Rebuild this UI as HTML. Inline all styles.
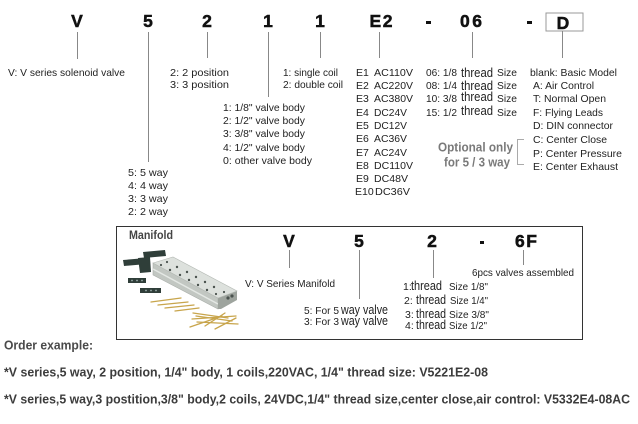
<!DOCTYPE html>
<html><head><meta charset="utf-8"><style>
html,body{margin:0;padding:0;background:#fff;}
svg{display:block;}
text{font-family:"Liberation Sans",Arial,sans-serif;fill:#222;}
.b{font-weight:bold;}
.big{font-size:17.5px;font-weight:bold;fill:#111;stroke:#111;stroke-width:0.5;}
.t{font-size:10.5px;}
.th{font-size:13px;}
.o{font-size:12.5px;font-weight:bold;fill:#3c3c3c;}
</style></head><body>
<svg width="638" height="424" viewBox="0 0 638 424" xmlns="http://www.w3.org/2000/svg">
<rect width="638" height="424" fill="#fff"/>
<!-- top code letters -->
<text class="big" x="77" y="27" text-anchor="middle">V</text>
<text class="big" x="148" y="27" text-anchor="middle">5</text>
<text class="big" x="207" y="27" text-anchor="middle">2</text>
<text class="big" x="268" y="27" text-anchor="middle">1</text>
<text class="big" x="320" y="27" text-anchor="middle">1</text>
<text class="big" x="381" y="27" text-anchor="middle" textLength="23" lengthAdjust="spacing">E2</text>
<rect x="426" y="21" width="5" height="3" fill="#111"/>
<text class="big" x="471" y="27" text-anchor="middle" textLength="22" lengthAdjust="spacing">06</text>
<rect x="527" y="21" width="5" height="3" fill="#111"/>
<rect x="546" y="13" width="37" height="18" fill="none" stroke="#999" stroke-width="1"/>
<text class="big" x="563" y="29" text-anchor="middle">D</text>
<!-- connectors -->
<g stroke="#888" stroke-width="1">
<line x1="77.5" y1="32" x2="77.5" y2="59"/>
<line x1="148.5" y1="32" x2="148.5" y2="162"/>
<line x1="207.5" y1="32" x2="207.5" y2="58"/>
<line x1="268.5" y1="32" x2="268.5" y2="97"/>
<line x1="320.5" y1="32" x2="320.5" y2="58"/>
<line x1="379.5" y1="32" x2="379.5" y2="58"/>
<line x1="472.5" y1="32" x2="472.5" y2="58"/>
<line x1="562.5" y1="31" x2="562.5" y2="58"/>
</g>
<!-- labels -->
<text class="t" x="8" y="76" textLength="117" lengthAdjust="spacingAndGlyphs">V: V series solenoid valve</text>
<text class="t" x="170" y="76" textLength="59" lengthAdjust="spacingAndGlyphs">2: 2 position</text>
<text class="t" x="170" y="88" textLength="59" lengthAdjust="spacingAndGlyphs">3: 3 position</text>
<text class="t" x="283" y="76" textLength="55" lengthAdjust="spacingAndGlyphs">1: single coil</text>
<text class="t" x="283" y="88" textLength="60" lengthAdjust="spacingAndGlyphs">2: double coil</text>
<text class="t" x="223" y="111" textLength="82" lengthAdjust="spacingAndGlyphs">1: 1/8" valve body</text>
<text class="t" x="223" y="124" textLength="82" lengthAdjust="spacingAndGlyphs">2: 1/2" valve body</text>
<text class="t" x="223" y="137" textLength="82" lengthAdjust="spacingAndGlyphs">3: 3/8" valve body</text>
<text class="t" x="223" y="151" textLength="82" lengthAdjust="spacingAndGlyphs">4: 1/2" valve body</text>
<text class="t" x="223" y="164" textLength="89" lengthAdjust="spacingAndGlyphs">0: other valve body</text>
<text class="t" x="128" y="176" textLength="40" lengthAdjust="spacingAndGlyphs">5: 5 way</text>
<text class="t" x="128" y="189" textLength="40" lengthAdjust="spacingAndGlyphs">4: 4 way</text>
<text class="t" x="128" y="202" textLength="40" lengthAdjust="spacingAndGlyphs">3: 3 way</text>
<text class="t" x="128" y="215" textLength="40" lengthAdjust="spacingAndGlyphs">2: 2 way</text>
<!-- E list -->
<text class="t" x="356" y="76">E1</text><text class="t" x="374" y="76" textLength="39" lengthAdjust="spacingAndGlyphs">AC110V</text>
<text class="t" x="356" y="89">E2</text><text class="t" x="374" y="89" textLength="39" lengthAdjust="spacingAndGlyphs">AC220V</text>
<text class="t" x="356" y="102">E3</text><text class="t" x="374" y="102" textLength="39" lengthAdjust="spacingAndGlyphs">AC380V</text>
<text class="t" x="356" y="116">E4</text><text class="t" x="374" y="116" textLength="33" lengthAdjust="spacingAndGlyphs">DC24V</text>
<text class="t" x="356" y="129">E5</text><text class="t" x="374" y="129" textLength="33" lengthAdjust="spacingAndGlyphs">DC12V</text>
<text class="t" x="356" y="142">E6</text><text class="t" x="374" y="142" textLength="33" lengthAdjust="spacingAndGlyphs">AC36V</text>
<text class="t" x="356" y="156">E7</text><text class="t" x="374" y="156" textLength="33" lengthAdjust="spacingAndGlyphs">AC24V</text>
<text class="t" x="356" y="169">E8</text><text class="t" x="374" y="169" textLength="39" lengthAdjust="spacingAndGlyphs">DC110V</text>
<text class="t" x="356" y="182">E9</text><text class="t" x="374" y="182" textLength="34" lengthAdjust="spacingAndGlyphs">DC48V</text>
<text class="t" x="355" y="195">E10</text><text class="t" x="375" y="195" textLength="35" lengthAdjust="spacingAndGlyphs">DC36V</text>
<!-- thread list -->
<text class="t" x="426" y="76" textLength="31" lengthAdjust="spacingAndGlyphs">06: 1/8</text>
<text class="th" x="461" y="77" textLength="32" lengthAdjust="spacingAndGlyphs">thread</text>
<text class="t" x="497" y="76" textLength="20" lengthAdjust="spacingAndGlyphs">Size</text>
<text class="t" x="426" y="89" textLength="31" lengthAdjust="spacingAndGlyphs">08: 1/4</text>
<text class="th" x="461" y="90" textLength="32" lengthAdjust="spacingAndGlyphs">thread</text>
<text class="t" x="497" y="89" textLength="20" lengthAdjust="spacingAndGlyphs">Size</text>
<text class="t" x="426" y="102" textLength="31" lengthAdjust="spacingAndGlyphs">10: 3/8</text>
<text class="th" x="461" y="101" textLength="32" lengthAdjust="spacingAndGlyphs">thread</text>
<text class="t" x="497" y="102" textLength="20" lengthAdjust="spacingAndGlyphs">Size</text>
<text class="t" x="426" y="116" textLength="31" lengthAdjust="spacingAndGlyphs">15: 1/2</text>
<text class="th" x="461" y="115" textLength="32" lengthAdjust="spacingAndGlyphs">thread</text>
<text class="t" x="497" y="116" textLength="20" lengthAdjust="spacingAndGlyphs">Size</text>
<!-- D list -->
<text class="t" x="530" y="76" textLength="87" lengthAdjust="spacingAndGlyphs">blank: Basic Model</text>
<text class="t" x="533" y="89" textLength="61" lengthAdjust="spacingAndGlyphs">A: Air Control</text>
<text class="t" x="533" y="102" textLength="73" lengthAdjust="spacingAndGlyphs">T: Normal Open</text>
<text class="t" x="533" y="116" textLength="70" lengthAdjust="spacingAndGlyphs">F: Flying Leads</text>
<text class="t" x="533" y="129" textLength="80" lengthAdjust="spacingAndGlyphs">D: DIN connector</text>
<text class="t" x="533" y="143" textLength="74" lengthAdjust="spacingAndGlyphs">C: Center Close</text>
<text class="t" x="533" y="157" textLength="89" lengthAdjust="spacingAndGlyphs">P: Center Pressure</text>
<text class="t" x="533" y="170" textLength="85" lengthAdjust="spacingAndGlyphs">E: Center Exhaust</text>
<!-- optional -->
<text x="438" y="151.5" style="font-size:13px;font-weight:bold;fill:#7a7a7a" textLength="75" lengthAdjust="spacingAndGlyphs">Optional only</text>
<text x="444" y="166.5" style="font-size:13px;font-weight:bold;fill:#7a7a7a" textLength="66" lengthAdjust="spacingAndGlyphs">for 5 / 3 way</text>
<path d="M524 139.5 H517.5 V164.5 H524" fill="none" stroke="#aaa" stroke-width="1"/>

<!-- Manifold box -->
<rect x="116.5" y="226.5" width="466" height="113" fill="none" stroke="#333" stroke-width="1"/>
<text x="129" y="239" style="font-size:11.5px;font-weight:bold;fill:#444" textLength="44" lengthAdjust="spacingAndGlyphs">Manifold</text>
<!-- manifold picture -->
<g>
<polygon points="153,263 218,298 218,309 153,275" fill="#c2c7c2" stroke="#a9aea9" stroke-width="0.6"/>
<line x1="153" y1="269" x2="218" y2="304" stroke="#e4e8e4" stroke-width="1.5"/>
<polygon points="218,298 237,291 237,300 221,309 218,309" fill="#9ea49e"/>
<polygon points="153,263 173,257 237,291 218,298" fill="#dde1dd" stroke="#b5bab5" stroke-width="0.6"/>
<g fill="#4a524e">
<circle cx="161" cy="265" r="1.1"/><circle cx="167" cy="262" r="1.1"/>
<circle cx="170" cy="270" r="1.2"/><circle cx="177" cy="267" r="1.2"/>
<circle cx="180" cy="275" r="1.2"/><circle cx="187" cy="272" r="1.2"/>
<circle cx="189" cy="280" r="1.2"/><circle cx="196" cy="277" r="1.2"/>
<circle cx="198" cy="285" r="1.2"/><circle cx="205" cy="282" r="1.2"/>
<circle cx="207" cy="290" r="1.2"/><circle cx="214" cy="287" r="1.2"/>
<circle cx="216" cy="294" r="1.1"/><circle cx="224" cy="292" r="1.1"/>
<circle cx="228" cy="298" r="1.6"/><circle cx="232" cy="296" r="1.6"/>
</g>
<g fill="#2f3e39">
<polygon points="123,260 146,258 147,264 124,266"/>
<polygon points="138,258 150,257 151,272 140,273"/>
<polygon points="143,252 165,250 166,256 144,258"/>
<rect x="128" y="278" width="18" height="5"/>
<rect x="140" y="288" width="21" height="5"/>
</g>
<g fill="#9aa">
<circle cx="132" cy="280.5" r="0.9"/><circle cx="137" cy="280.5" r="0.9"/><circle cx="142" cy="280.5" r="0.9"/>
<circle cx="146" cy="290.5" r="0.9"/><circle cx="151" cy="290.5" r="0.9"/><circle cx="156" cy="290.5" r="0.9"/>
</g>
<g stroke="#c8a54c" stroke-width="1.3" stroke-linecap="round">
<line x1="151" y1="302" x2="181" y2="298"/>
<line x1="158" y1="305" x2="188" y2="302"/>
<line x1="165" y1="308" x2="194" y2="305"/>
<line x1="175" y1="311" x2="199" y2="308"/>
<line x1="193" y1="313" x2="228" y2="318"/>
<line x1="196" y1="316" x2="232" y2="321"/>
<line x1="192" y1="319" x2="236" y2="316"/>
<line x1="197" y1="322" x2="238" y2="324"/>
<line x1="190" y1="327" x2="222" y2="316"/>
<line x1="205" y1="326" x2="225" y2="313"/>
<line x1="215" y1="329" x2="236" y2="318"/>
</g>
</g>
<!-- manifold code -->
<text class="big" x="289" y="247" text-anchor="middle">V</text>
<text class="big" x="359" y="247" text-anchor="middle">5</text>
<text class="big" x="432" y="247" text-anchor="middle">2</text>
<rect x="480" y="241" width="4" height="3" fill="#111"/>
<text class="big" x="526" y="247" text-anchor="middle" textLength="22" lengthAdjust="spacing">6F</text>
<g stroke="#888" stroke-width="1">
<line x1="289.5" y1="250" x2="289.5" y2="268"/>
<line x1="359.5" y1="250" x2="359.5" y2="299"/>
<line x1="433.5" y1="250" x2="433.5" y2="278"/>
<line x1="523.5" y1="250" x2="523.5" y2="265"/>
</g>
<text class="t" x="245" y="287" textLength="90" lengthAdjust="spacingAndGlyphs">V: V Series Manifold</text>
<text class="t" x="304" y="314" textLength="35" lengthAdjust="spacingAndGlyphs">5: For 5</text>
<text x="341" y="314" style="font-size:12.5px" textLength="47" lengthAdjust="spacingAndGlyphs">way valve</text>
<text class="t" x="304" y="325" textLength="35" lengthAdjust="spacingAndGlyphs">3: For 3</text>
<text x="341" y="325" style="font-size:12.5px" textLength="47" lengthAdjust="spacingAndGlyphs">way valve</text>
<text class="t" x="472" y="276" textLength="102" lengthAdjust="spacingAndGlyphs">6pcs valves assembled</text>
<text class="t" x="403" y="290">1:</text><text x="411" y="290" style="font-size:12.5px" textLength="31" lengthAdjust="spacingAndGlyphs">thread</text><text class="t" x="449" y="290" textLength="39" lengthAdjust="spacingAndGlyphs">Size 1/8"</text>
<text class="t" x="404" y="304">2:</text><text x="416" y="304" style="font-size:12.5px" textLength="30" lengthAdjust="spacingAndGlyphs">thread</text><text class="t" x="450" y="304" textLength="38" lengthAdjust="spacingAndGlyphs">Size 1/4"</text>
<text class="t" x="405" y="318">3:</text><text x="416" y="318" style="font-size:12.5px" textLength="30" lengthAdjust="spacingAndGlyphs">thread</text><text class="t" x="449" y="318" textLength="40" lengthAdjust="spacingAndGlyphs">Size 3/8"</text>
<text class="t" x="405" y="329">4:</text><text x="416" y="329" style="font-size:12.5px" textLength="30" lengthAdjust="spacingAndGlyphs">thread</text><text class="t" x="449" y="329" textLength="38" lengthAdjust="spacingAndGlyphs">Size 1/2"</text>

<!-- order example -->
<text class="o" x="4" y="349.5" style="fill:#4a4a4a" textLength="89" lengthAdjust="spacingAndGlyphs">Order example:</text>
<text class="o" x="4" y="376.5" textLength="484" lengthAdjust="spacingAndGlyphs">*V series,5 way, 2 position, 1/4" body, 1 coils,220VAC, 1/4" thread size: V5221E2-08</text>
<text class="o" x="4" y="403.5" textLength="626" lengthAdjust="spacingAndGlyphs">*V series,5 way,3 postition,3/8" body,2 coils, 24VDC,1/4" thread size,center close,air control: V5332E4-08AC</text>
</svg>
</body></html>
